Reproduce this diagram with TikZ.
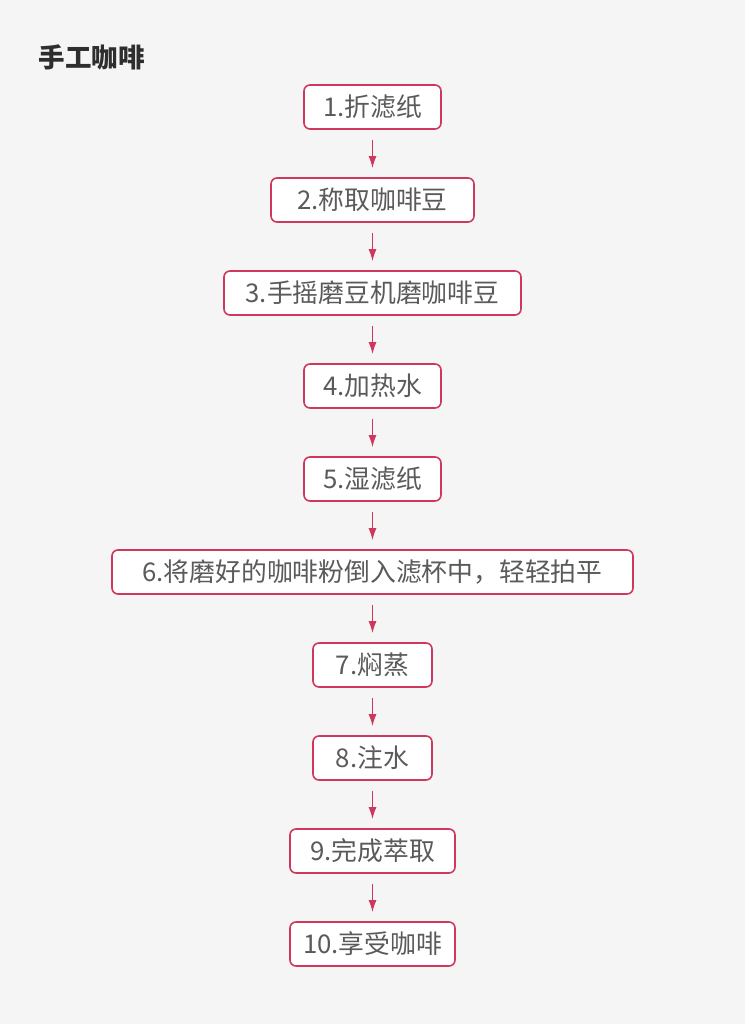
\documentclass[tikz,border=0pt]{standalone}
\usepackage{fontspec}
\setmainfont{Noto Sans CJK SC}
\usetikzlibrary{arrows.meta}
\definecolor{stepred}{HTML}{CF385C}
\definecolor{steptext}{HTML}{5A5A5A}
\definecolor{bgcol}{HTML}{F5F5F5}
\tikzset{
  stepbox/.style={draw=stepred, line width=1.6pt, fill=white, rounded corners=6pt,
    minimum height=44pt, inner xsep=4pt, text=steptext, font=\fontsize{25.8}{30}\selectfont},
  steparrow/.style={draw=stepred, line width=1.4pt, -{Latex[length=12pt,width=8pt]},
    shorten <=10pt, shorten >=9pt}
}
\begin{document}
\begin{tikzpicture}[x=1pt,y=-1pt]
\fill [bgcol] (0,0) rectangle (745,1024);
\useasboundingbox (0,0) rectangle (745,1024);

\node [anchor=west, text=black!82, font=\fontsize{26.5}{30}\selectfont\bfseries] (title) at (35,57) {手工咖啡};

\node [stepbox, minimum width=137pt] (s1) at (372.5,107) {1.折滤纸};
\node [stepbox, minimum width=203pt] (s2) at (372.5,200) {2.称取咖啡豆};
\node [stepbox, minimum width=297pt] (s3) at (372.5,293) {3.手摇磨豆机磨咖啡豆};
\node [stepbox, minimum width=137pt] (s4) at (372.5,386) {4.加热水};
\node [stepbox, minimum width=137pt] (s5) at (372.5,479) {5.湿滤纸};
\node [stepbox, minimum width=521pt] (s6) at (372.5,572) {6.将磨好的咖啡粉倒入滤杯中，轻轻拍平};
\node [stepbox, minimum width=119pt] (s7) at (372.5,665) {7.焖蒸};
\node [stepbox, minimum width=119pt] (s8) at (372.5,758) {8.注水};
\node [stepbox, minimum width=165pt] (s9) at (372.5,851) {9.完成萃取};
\node [stepbox, minimum width=165pt] (s10) at (372.5,944) {10.享受咖啡};

\draw [steparrow] (s1) -- (s2);
\draw [steparrow] (s2) -- (s3);
\draw [steparrow] (s3) -- (s4);
\draw [steparrow] (s4) -- (s5);
\draw [steparrow] (s5) -- (s6);
\draw [steparrow] (s6) -- (s7);
\draw [steparrow] (s7) -- (s8);
\draw [steparrow] (s8) -- (s9);
\draw [steparrow] (s9) -- (s10);

\end{tikzpicture}
\end{document}
